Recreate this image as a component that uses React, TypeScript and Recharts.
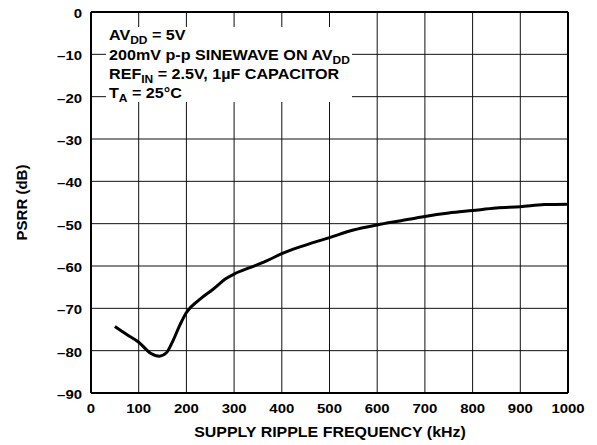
import React from 'react';
import { LineChart, Line, XAxis, YAxis, CartesianGrid, ReferenceLine } from 'recharts';

const freqKHz = [50, 75, 100, 125, 143, 158, 170, 187, 200, 228, 256, 284, 300, 333, 368, 400, 438, 459, 500, 550, 600, 650, 700, 750, 800, 850, 900, 950, 1000];
const psrrDb = [-74.3, -76.2, -78.0, -80.6, -81.3, -80.5, -78.1, -73.8, -71.0, -67.9, -65.5, -62.9, -61.9, -60.4, -58.8, -57.1, -55.5, -54.7, -53.3, -51.5, -50.3, -49.3, -48.3, -47.5, -46.9, -46.3, -46.0, -45.5, -45.4];

const xTicks = [0, 100, 200, 300, 400, 500, 600, 700, 800, 900, 1000];
const yTicks = [0, -10, -20, -30, -40, -50, -60, -70, -80, -90];

const data = freqKHz.map((f, i) => ({ f, psrr: psrrDb[i] }));

const FONT = '"Liberation Sans", Arial, Helvetica, sans-serif';

const fmt = (v: number) => (v < 0 ? '\u2013' + Math.abs(v) : String(v));

const YTick = (props: any) => {
  const { x, y, payload } = props;
  return (
    <text transform={`translate(${x},${y}) scale(1.15,1)`} textAnchor="end" dy={6}
      fontFamily={FONT} fontWeight="bold" fontSize={13} fill="#000">
      {fmt(payload.value)}
    </text>
  );
};

const XTick = (props: any) => {
  const { x, y, payload } = props;
  return (
    <text transform={`translate(${x},${y}) scale(1.15,1)`} textAnchor="middle" dy={20}
      fontFamily={FONT} fontWeight="bold" fontSize={13} fill="#000">
      {payload.value}
    </text>
  );
};

const yLabel = () => (
  <text transform="translate(26.7,202.5) rotate(-90)" textAnchor="middle"
    fontFamily={FONT} fontWeight="bold" fontSize={15} fill="#000">
    PSRR (dB)
  </text>
);

const xLabel = () => (
  <text transform="translate(330,437) scale(1.064,1)" textAnchor="middle"
    fontFamily={FONT} fontWeight="bold" fontSize={15} fill="#000">
    SUPPLY RIPPLE FREQUENCY (kHz)
  </text>
);

const lineStyle: React.CSSProperties = { height: 19.3, lineHeight: '19.3px', whiteSpace: 'nowrap' };
const sub: React.CSSProperties = { fontSize: 10.7, position: 'relative', top: 4 };

export default function App() {
  return (
    <div style={{ position: 'absolute', left: 0, top: 0, width: 597, height: 445, background: '#fff' }}>
      <LineChart width={597} height={445} data={data} margin={{ top: 12, right: 29, bottom: 22, left: 0 }}>
        <CartesianGrid stroke="#111" strokeWidth={1} />
        <XAxis dataKey="f" type="number" domain={[0, 1000]} ticks={xTicks} interval={0} height={30}
          tickLine={false} tickSize={0} tickMargin={0} tick={<XTick />}
          axisLine={{ stroke: '#000', strokeWidth: 2 }} label={xLabel} />
        <YAxis type="number" domain={[-90, 0]} ticks={yTicks} interval={0} width={91}
          tickLine={false} tickSize={0} tickMargin={9} tick={<YTick />}
          axisLine={{ stroke: '#000', strokeWidth: 2 }} label={yLabel} />
        <ReferenceLine y={0} stroke="#000" strokeWidth={2} />
        <ReferenceLine x={1000} stroke="#000" strokeWidth={2} />
        <Line type="monotone" dataKey="psrr" stroke="#000" strokeWidth={3} dot={false} isAnimationActive={false} />
      </LineChart>
      <div style={{ position: 'absolute', left: 106, top: 27, width: 246, height: 75, background: '#fff' }} />
      <div style={{
        position: 'absolute', left: 109, top: 26.4, fontFamily: FONT, fontWeight: 'bold', fontSize: 14.4,
        color: '#000', transform: 'scaleX(1.12)', transformOrigin: 'left top',
      }}>
        <div style={lineStyle}>AV<span style={sub}>DD</span> = 5V</div>
        <div style={lineStyle}>200mV p-p SINEWAVE ON AV<span style={sub}>DD</span></div>
        <div style={lineStyle}>REF<span style={sub}>IN</span> = 2.5V, 1µF CAPACITOR</div>
        <div style={lineStyle}>T<span style={sub}>A</span> = 25°C</div>
      </div>
    </div>
  );
}
